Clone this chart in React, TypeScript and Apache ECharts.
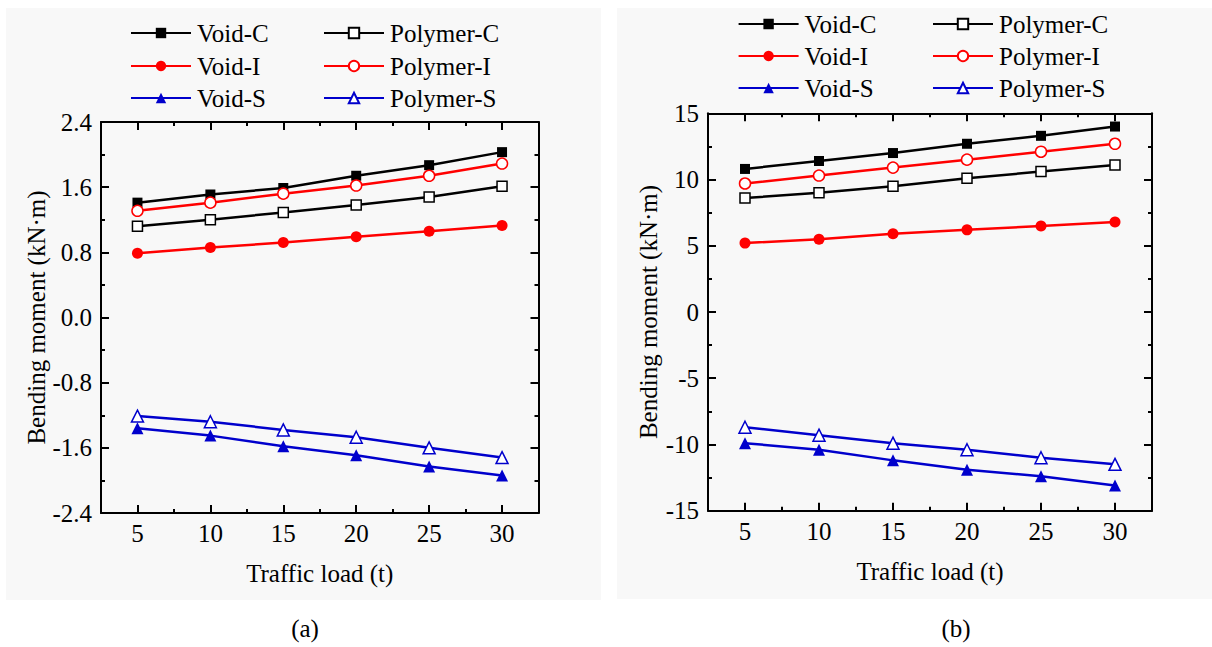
import React, { useEffect, useRef } from "react";
import * as echarts from "echarts";

const LOADS = [5, 10, 15, 20, 25, 30];
const MINOR_LOADS = [7.5, 12.5, 17.5, 22.5, 27.5];
const NAMES = ["Void-C", "Polymer-C", "Void-I", "Polymer-I", "Void-S", "Polymer-S"];

// Panel (a)
const voidC_a = [1.41, 1.51, 1.59, 1.74, 1.87, 2.03];
const polyC_a = [1.12, 1.2, 1.29, 1.38, 1.48, 1.61];
const voidI_a = [0.79, 0.86, 0.92, 0.99, 1.06, 1.13];
const polyI_a = [1.31, 1.41, 1.52, 1.62, 1.74, 1.89];
const voidS_a = [-1.36, -1.45, -1.58, -1.69, -1.83, -1.94];
const polyS_a = [-1.21, -1.28, -1.38, -1.47, -1.6, -1.72];

// Panel (b)
const voidC_b = [10.8, 11.4, 12.0, 12.7, 13.3, 14.0];
const polyC_b = [8.6, 9.0, 9.5, 10.1, 10.6, 11.1];
const voidI_b = [5.2, 5.5, 5.9, 6.2, 6.5, 6.8];
const polyI_b = [9.7, 10.3, 10.9, 11.5, 12.1, 12.7];
const voidS_b = [-9.9, -10.4, -11.2, -11.9, -12.4, -13.1];
const polyS_b = [-8.7, -9.3, -9.9, -10.4, -11.0, -11.5];

const FONT = "'Liberation Serif', 'Times New Roman', serif";
const BLACK = "#000000";
const RED = "#ff0000";
const BLUE = "#0000cc";

const STYLES: Record<string, { color: string; symbol: string; hollow: boolean; size: number }> = {
  "Void-C": { color: BLACK, symbol: "rect", hollow: false, size: 10 },
  "Polymer-C": { color: BLACK, symbol: "rect", hollow: true, size: 10 },
  "Void-I": { color: RED, symbol: "circle", hollow: false, size: 11 },
  "Polymer-I": { color: RED, symbol: "circle", hollow: true, size: 11 },
  "Void-S": { color: BLUE, symbol: "triangle", hollow: false, size: 12 },
  "Polymer-S": { color: BLUE, symbol: "triangle", hollow: true, size: 12 },
};

function pairs(vals: number[]) {
  return LOADS.map((x, i) => [x, vals[i]]);
}

function makeSeries(name: string, vals: number[], axisBase: number, yIndex: number) {
  const s = STYLES[name];
  return {
    type: "line",
    name,
    xAxisIndex: axisBase,
    yAxisIndex: yIndex,
    data: pairs(vals),
    symbol: s.symbol,
    symbolSize: s.size,
    lineStyle: { color: s.color, width: 2.5 },
    itemStyle: {
      color: s.hollow ? "#ffffff" : s.color,
      borderColor: s.color,
      borderWidth: s.hollow ? 1.5 : 0,
    },
    z: 3,
  };
}

const axisLineStyle = { color: BLACK, width: 2 };
const labelStyle = { color: BLACK, fontSize: 25, fontFamily: FONT };

function xAxes(gridIndex: number) {
  const base = { type: "value", gridIndex, min: 2.5, max: 32.5, splitLine: { show: false } };
  return [
    {
      ...base,
      position: "bottom",
      axisLine: { show: true, onZero: false, lineStyle: axisLineStyle },
      axisTick: { show: true, inside: true, length: 8, customValues: LOADS, lineStyle: axisLineStyle },
      axisLabel: { ...labelStyle, customValues: LOADS, margin: 8 },
      name: "Traffic load (t)",
      nameLocation: "middle",
      nameGap: 48,
      nameTextStyle: labelStyle,
    },
    {
      ...base,
      position: "bottom",
      axisLine: { show: false, onZero: false },
      axisTick: { show: true, inside: true, length: 4, customValues: MINOR_LOADS, lineStyle: axisLineStyle },
      axisLabel: { show: false },
    },
    {
      ...base,
      position: "top",
      axisLine: { show: true, onZero: false, lineStyle: axisLineStyle },
      axisTick: { show: true, inside: true, length: 8, customValues: LOADS, lineStyle: axisLineStyle },
      axisLabel: { show: false },
    },
    {
      ...base,
      position: "top",
      axisLine: { show: false, onZero: false },
      axisTick: { show: true, inside: true, length: 4, customValues: MINOR_LOADS, lineStyle: axisLineStyle },
      axisLabel: { show: false },
    },
  ];
}

function yAxes(gridIndex: number, min: number, max: number, interval: number, fmt: (v: number) => string, nameGap: number) {
  const base = {
    type: "value",
    gridIndex,
    min,
    max,
    interval,
    splitLine: { show: false },
    axisTick: { show: true, inside: true, length: 8, lineStyle: axisLineStyle },
    minorTick: { show: true, splitNumber: 2, length: 4, lineStyle: axisLineStyle },
    minorSplitLine: { show: false },
  };
  return [
    {
      ...base,
      position: "left",
      axisLine: { show: true, onZero: false, lineStyle: axisLineStyle },
      axisLabel: { ...labelStyle, margin: 9, formatter: fmt },
      name: "Bending moment (kN·m)",
      nameLocation: "middle",
      nameGap,
      nameTextStyle: labelStyle,
    },
    {
      ...base,
      position: "right",
      axisLine: { show: true, onZero: false, lineStyle: axisLineStyle },
      axisLabel: { show: false },
    },
  ];
}

function legends(col1: number, col2: number, rows: number[]) {
  const out: any[] = [];
  NAMES.forEach((n, i) => {
    const row = Math.floor(i / 2);
    const col = i % 2;
    out.push({
      data: [n],
      left: col === 0 ? col1 : col2,
      top: rows[row] - 13,
      orient: "horizontal",
      padding: 0,
      itemWidth: 60,
      itemHeight: 13,
      selectedMode: false,
      textStyle: { ...labelStyle, lineHeight: 26, padding: [0, 0, 0, 1] },
    });
  });
  return out;
}

export default function App() {
  const ref = useRef<HTMLDivElement>(null);
  useEffect(() => {
    if (!ref.current) return;
    const chart = echarts.init(ref.current, undefined, { renderer: "svg" });
    const seriesA = [
      makeSeries("Void-C", voidC_a, 0, 0),
      makeSeries("Polymer-C", polyC_a, 0, 0),
      makeSeries("Void-I", voidI_a, 0, 0),
      makeSeries("Polymer-I", polyI_a, 0, 0),
      makeSeries("Void-S", voidS_a, 0, 0),
      makeSeries("Polymer-S", polyS_a, 0, 0),
    ];
    const seriesB = [
      makeSeries("Void-C", voidC_b, 4, 2),
      makeSeries("Polymer-C", polyC_b, 4, 2),
      makeSeries("Void-I", voidI_b, 4, 2),
      makeSeries("Polymer-I", polyI_b, 4, 2),
      makeSeries("Void-S", voidS_b, 4, 2),
      makeSeries("Polymer-S", polyS_b, 4, 2),
    ];
    chart.setOption({
      animation: false,
      backgroundColor: "#ffffff",
      grid: [
        { left: 101, top: 122, width: 437.5, height: 391, containLabel: false },
        { left: 708, top: 113.3, width: 444, height: 397.4, containLabel: false },
      ],
      xAxis: [...xAxes(0), ...xAxes(1)],
      yAxis: [
        ...yAxes(0, -2.4, 2.4, 0.8, (v: number) => v.toFixed(1), 51),
        ...yAxes(1, -15, 15, 5, (v: number) => String(Math.round(v)), 47),
      ],
      legend: [...legends(130, 323, [33, 66, 98]), ...legends(737.6, 932, [24, 56, 88])],
      graphic: [
        { type: "rect", z: -10, silent: true, shape: { x: 6, y: 8, width: 595, height: 592 }, style: { fill: "#f8f8f8" } },
        { type: "rect", z: -10, silent: true, shape: { x: 617, y: 8, width: 595, height: 591 }, style: { fill: "#f8f8f8" } },
        { type: "text", x: 305, y: 628, style: { text: "(a)", fontSize: 25, fontFamily: FONT, fill: BLACK, align: "center", verticalAlign: "middle" } },
        { type: "text", x: 956, y: 628, style: { text: "(b)", fontSize: 25, fontFamily: FONT, fill: BLACK, align: "center", verticalAlign: "middle" } },
      ],
      series: [...seriesA, ...seriesB],
    });
    return () => chart.dispose();
  }, []);
  return <div ref={ref} style={{ position: "absolute", left: 0, top: 0, width: 1212, height: 647 }} />;
}
